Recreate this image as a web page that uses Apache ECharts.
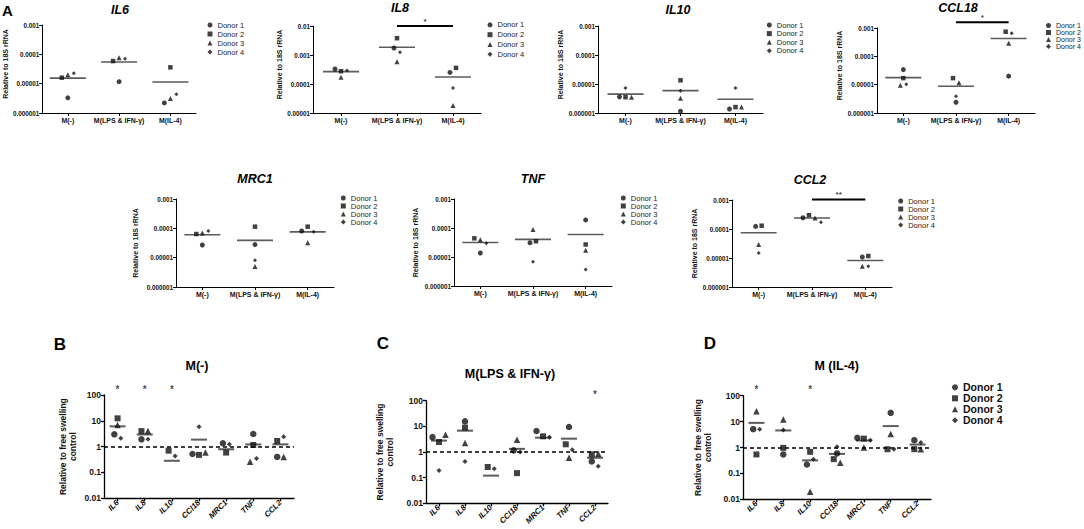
<!DOCTYPE html>
<html><head><meta charset="utf-8">
<script src="https://cdn.jsdelivr.net/npm/echarts@6/dist/echarts.min.js"></script>
<style>html,body{margin:0;padding:0;background:#fff}#c{width:1084px;height:529px}</style>
</head><body><div id="c"></div>
<script>
// ---------------- DATA ----------------
const donors = ['Donor 1', 'Donor 2', 'Donor 3', 'Donor 4'];
const conditions = ['M(-)', 'M(LPS & IFN-γ)', 'M(IL-4)'];
const genes = ['IL6', 'IL8', 'IL10', 'CCl18', 'MRC1', 'TNF', 'CCL2'];
const tickLabelsA = ['0.000001', '0.00001', '0.0001', '0.001', '0.01'];   // 1e-6 .. 1e-2
const tickLabelsBCD = ['0.01', '0.1', '1', '10', '100'];                  // 1e-2 .. 1e2

// Panel A: expression relative to 18S rRNA; rows = donors, columns = conditions
const IL6   = [[3.3e-6, 1.17e-5, 2.2e-6], [1.6e-5, 5.9e-5, 3.6e-5], [2.0e-5, 7.7e-5, 3.1e-6], [2.25e-5, 7.1e-5, 4.4e-6]];
const IL8   = [[3.3e-4, 1.74e-3, 2.5e-4], [2.75e-4, 3.8e-3, 3.6e-4], [1.7e-4, 5.8e-4, 1.8e-5], [2.9e-4, 1.24e-3, 7.3e-5]];
const IL10  = [[3.6e-6, 1.15e-6, 1.37e-6], [3.5e-6, 1.34e-5, 1.6e-6], [3.5e-6, 3.2e-6, 1.6e-6], [7.3e-6, 5.8e-6, 7.3e-6]];
const CCL18 = [[3.4e-5, 2.4e-6, 2.0e-5], [1.7e-5, 1.7e-5, 7.4e-4], [9.5e-6, 1.18e-5, 2.9e-4], [1.03e-5, 3.9e-6, 6.5e-4]];
const MRC1  = [[2.7e-5, 2.8e-5, 8.1e-5], [6.4e-5, 1.14e-4, 1.14e-4], [6.9e-5, 5.0e-6, 3.2e-5], [8.1e-5, 8.1e-6, 7.7e-5]];
const TNF   = [[1.37e-5, 3.1e-5, 1.9e-4], [4.4e-5, 3.5e-5, 2.7e-5], [3.9e-5, 8.9e-5, 1.7e-5], [3.0e-5, 6.9e-6, 3.7e-6]];
const CCL2  = [[1.23e-4, 2.45e-4, 1.08e-5], [1.3e-4, 3.0e-4, 1.17e-5], [2.9e-5, 2.4e-4, 5.2e-6], [1.5e-5, 1.7e-4, 5.2e-6]];

// Panels B-D: relative to free swelling control; rows = donors, columns = genes (0 = not detected)
const Mneg = [[3.0, 1.92, 0, 0.52, 1.35, 3.1, 0.40], [12.5, 4.0, 0.70, 0.48, 0.59, 1.16, 1.66], [6.9, 4.0, 0, 0.59, 0, 0.26, 0.40], [2.1, 1.92, 0.435, 5.9, 1.23, 0.35, 2.44]];
const Mlps = [[3.8, 15.6, 0, 1.16, 6.6, 9.4, 0.43], [2.45, 8.9, 0.26, 0.15, 4.08, 2.0, 0.81], [4.7, 2.24, 0, 3.0, 0, 0.6, 0.86], [0.19, 0.43, 0.22, 1.0, 3.8, 1.23, 0.28]];
const Mil4 = [[5.1, 0.54, 0.22, 0.59, 2.36, 21.8, 1.92], [0.54, 0.97, 0.68, 0.355, 2.2, 0.86, 0.86], [25, 12, 0.0195, 0.26, 1.0, 3.3, 0.86], [5.1, 4.7, 0.355, 1.06, 1.92, 0.86, 1.56]];

// significance annotations
const sigIL8 = ['M(LPS & IFN-γ)', 'M(IL-4)', '*'];
const sigCCL18 = ['M(LPS & IFN-γ)', 'M(IL-4)', '*'];
const sigCCL2 = ['M(LPS & IFN-γ)', 'M(IL-4)', '**'];
const starsMneg = ['IL6', 'IL8', 'IL10'];
const starsMlps = ['CCL2'];
const starsMil4 = ['IL6', 'IL10'];

// ---------------- LAYOUT ----------------
const FONT = '"Liberation Sans", Arial, sans-serif';
const symbols = ['circle', 'rect', 'triangle', 'diamond'];

const panelsA = [
  {title: 'IL6',   values: IL6,   min: -6, max: -3, grid: [41, 25, 155, 88],  nameGap: 30, namePad: 10, legend: [207.5, 20.5, 9, 7.5],   title_xy: [120, 9.7]},
  {title: 'IL8',   values: IL8,   min: -5, max: -2, grid: [313, 26, 168, 87], nameGap: 27, namePad: 10, legend: [487.5, 20, 9.8, 7.5],   title_xy: [400, 8.3], sig: sigIL8, sigLevel: 1.0e-2},
  {title: 'IL10',  values: IL10,  min: -6, max: -3, grid: [598, 26, 165, 87], nameGap: 32, namePad: 10, legend: [766.8, 20.7, 8.6, 7.5], title_xy: [678, 10]},
  {title: 'CCL18', values: CCL18, min: -6, max: -3, grid: [877, 28, 158, 85], nameGap: 34, namePad: 10, legend: [1046, 22, 6, 7],   title_xy: [958, 8], sig: sigCCL18, sigLevel: 1.6e-3},
  {title: 'MRC1',  values: MRC1,  min: -6, max: -3, grid: [176, 199, 158, 88], nameGap: 37, namePad: 0, legend: [340.8, 194, 7.8, 7.5], title_xy: [255, 178.7]},
  {title: 'TNF',   values: TNF,   min: -6, max: -3, grid: [454, 199, 158, 87], nameGap: 35, namePad: 0, legend: [620.8, 194, 7.4, 7.5], title_xy: [533, 179]},
  {title: 'CCL2',  values: CCL2,  min: -6, max: -3, grid: [732, 200, 160, 87], nameGap: 34, namePad: 0, legend: [898.2, 197, 6, 7.5],   title_xy: [810, 180], sig: sigCCL2, sigLevel: 1.05e-3}
];
const panelsB = [
  {title: 'M(-)',           values: Mneg, min: -2, max: 2, grid: [104, 395, 190, 103.3], nameGap: 26, title_xy: [197, 366],   letter: ['B', 60, 344],  stars: starsMneg},
  {title: 'M(LPS & IFN-γ)', values: Mlps, min: -2, max: 2, grid: [426, 400.7, 182, 102.6], nameGap: 31, title_xy: [510, 373.7], letter: ['C', 383, 343.5], stars: starsMlps},
  {title: 'M (IL-4)',       values: Mil4, min: -2, max: 2, grid: [743, 395.7, 188, 103.6], nameGap: 30, title_xy: [836.7, 366.3], letter: ['D', 710, 343], stars: starsMil4, bigLegend: [952, 381.8, 11]}
];

const styleA = {
  axisW: 1, sizes: [5, 4.5, 5, 4], meanSize: [36, 1.6], thr: 5, step: 6,
  ticks: tickLabelsA, tickBase: -6, tickFont: 6.3,
  yName: 'Relative to 18S rRNA', yNameFont: 7, yNameLH: 8,
  xLabel: {fontSize: 7, fontWeight: 'bold', color: '#111', margin: 4, interval: 0, fontFamily: FONT}
};
const styleB = {
  axisW: 1.3, sizes: [6.5, 6, 6.5, 5], meanSize: [16, 2], thr: 5.5, step: 6.5,
  ticks: tickLabelsBCD, tickBase: -2, tickFont: 8.5,
  yName: 'Relative to free swelling\ncontrol', yNameFont: 8.5, yNameLH: 10,
  xLabel: {fontSize: 8, fontWeight: 'bold', fontStyle: 'italic', color: '#111', margin: 3, interval: 0, rotate: 45, fontFamily: FONT}
};

const grid = [], xAxis = [], yAxis = [], series = [], legend = [], graphic = [];

function computeOffsets(values, pxPerDec, thr, step) {
  const nCat = values[0].length;
  const off = values.map(r => r.map(() => 0));
  for (let i = 0; i < nCat; i++) {
    const items = [];
    values.forEach((r, d) => { if (r[i] > 0) items.push({d, y: Math.log10(r[i]) * pxPerDec}); });
    items.sort((a, b) => a.y - b.y);
    const clusters = [];
    items.forEach(it => {
      const last = clusters[clusters.length - 1];
      if (last && it.y - last[last.length - 1].y < thr) last.push(it); else clusters.push([it]);
    });
    clusters.forEach(c => {
      c.sort((a, b) => a.d - b.d);
      c.forEach((it, k) => { off[it.d][i] = (k - (c.length - 1) / 2) * step; });
    });
  }
  return off;
}

function addPanel(cfg, cats, st) {
  const p = grid.length;
  const [gl, gt, gw, gh] = cfg.grid;
  const ymin = Number('1e' + cfg.min), ymax = Number('1e' + cfg.max);
  grid.push({left: gl, top: gt, width: gw, height: gh});
  xAxis.push({
    type: 'category', gridIndex: p, data: cats, boundaryGap: true, position: 'bottom',
    axisLine: {show: true, onZero: false, lineStyle: {color: '#000', width: st.axisW}},
    axisTick: {show: true, alignWithLabel: true, length: 3, lineStyle: {color: '#000', width: st.axisW}},
    axisLabel: st.xLabel, splitLine: {show: false}
  });
  xAxis.push({type: 'value', gridIndex: p, min: -0.5, max: cats.length - 0.5, show: false,
    axisLine: {onZero: false}});
  yAxis.push({
    type: 'log', logBase: 10, gridIndex: p, min: ymin, max: ymax, position: 'left',
    axisLine: {show: true, onZero: false, lineStyle: {color: '#000', width: st.axisW}},
    axisTick: {show: true, length: 3, lineStyle: {color: '#000', width: st.axisW}},
    splitLine: {show: false}, minorTick: {show: false},
    axisLabel: {
      formatter: v => st.ticks[Math.round(Math.log10(v)) - st.tickBase],
      fontSize: st.tickFont, fontWeight: 'bold', color: '#111', margin: 3, fontFamily: FONT
    },
    name: st.yName, nameLocation: 'middle', nameGap: cfg.nameGap, nameRotate: 90,
    nameTextStyle: {fontSize: st.yNameFont, fontWeight: 'bold', color: '#111', fontFamily: FONT,
      lineHeight: st.yNameLH, align: 'center', padding: [0, 0, 0, cfg.namePad || 0]}
  });
  const pxPerDec = gh / (cfg.max - cfg.min);
  const offs = computeOffsets(cfg.values, pxPerDec, st.thr, st.step);
  // mean lines
  const means = cats.map((c, i) => [i, cfg.values.reduce((s, r) => s + r[i], 0) / cfg.values.length]);
  series.push({
    type: 'scatter', xAxisIndex: 2 * p + 1, yAxisIndex: p, symbol: 'rect', symbolSize: st.meanSize,
    itemStyle: {color: '#333'}, z: 2, silent: true, data: means,
    markLine: cfg.dashed ? {silent: true, symbol: 'none', label: {show: false},
      lineStyle: {color: '#000', type: [4, 3], width: 1.5}, data: [{yAxis: 1}]} : undefined
  });
  // donor points
  donors.forEach((name, d) => {
    const data = [];
    cfg.values[d].forEach((v, i) => {
      if (v >= ymin) data.push({value: [i, v], symbolOffset: [offs[d][i], 0]});
    });
    series.push({
      type: 'scatter', name, xAxisIndex: 2 * p + 1, yAxisIndex: p, symbol: symbols[d],
      symbolSize: st.sizes[d], itemStyle: {color: '#111'}, z: 3, data
    });
  });
  return p;
}

// ---- Panel A ----
panelsA.forEach(cfg => {
  const p = addPanel(cfg, conditions, styleA);
  graphic.push({type: 'text', x: cfg.title_xy[0], y: cfg.title_xy[1],
    style: {text: cfg.title, font: 'italic bold 12.5px ' + FONT, fill: '#000', align: 'center', verticalAlign: 'middle'}});
  const [ll, lt, pitch, fs] = cfg.legend;
  legend.push({
    left: ll, top: lt, orient: 'vertical', itemWidth: 5, itemHeight: 5, itemGap: 0, padding: 0,
    selectedMode: false, textStyle: {fontSize: fs, lineHeight: pitch, color: '#222', fontFamily: FONT},
    data: donors.map((n, i) => ({name: n, icon: symbols[i]}))
  });
  if (cfg.sig) {
    const a = conditions.indexOf(cfg.sig[0]), b = conditions.indexOf(cfg.sig[1]);
    series.push({type: 'line', xAxisIndex: 2 * p + 1, yAxisIndex: p, symbol: 'none', clip: false, silent: true, z: 4,
      lineStyle: {color: '#000', width: 2}, data: [[a, cfg.sigLevel], [b, cfg.sigLevel]]});
    series.push({type: 'scatter', xAxisIndex: 2 * p + 1, yAxisIndex: p, symbolSize: 1, clip: false, silent: true, z: 4,
      itemStyle: {color: 'rgba(0,0,0,0)'},
      label: {show: true, position: 'top', distance: 0, formatter: cfg.sig[2], fontSize: 8, fontWeight: 'bold', color: '#000', fontFamily: FONT},
      data: [[(a + b) / 2, cfg.sigLevel]]});
  }
});
graphic.push({type: 'text', x: 2, y: 10, style: {text: 'A', font: 'bold 15px ' + FONT, fill: '#000', align: 'left', verticalAlign: 'middle'}});

// ---- Panels B-D ----
panelsB.forEach(cfg => {
  cfg.dashed = true;
  const p = addPanel(cfg, genes, styleB);
  graphic.push({type: 'text', x: cfg.title_xy[0], y: cfg.title_xy[1],
    style: {text: cfg.title, font: 'bold 12.5px ' + FONT, fill: '#000', align: 'center', verticalAlign: 'middle'}});
  graphic.push({type: 'text', x: cfg.letter[1], y: cfg.letter[2],
    style: {text: cfg.letter[0], font: 'bold 17px ' + FONT, fill: '#000', align: 'center', verticalAlign: 'middle'}});
  series.push({type: 'scatter', xAxisIndex: 2 * p + 1, yAxisIndex: p, symbolSize: 1, clip: false, silent: true, z: 4,
    itemStyle: {color: 'rgba(0,0,0,0)'},
    label: {show: true, position: 'inside', formatter: '*', fontSize: 10, fontWeight: 'bold', color: '#222', fontFamily: FONT},
    data: cfg.stars.map(g => [genes.indexOf(g), 170])});
  if (cfg.bigLegend) {
    const [ll, lt, pitch] = cfg.bigLegend;
    legend.push({
      left: ll, top: lt, orient: 'vertical', itemWidth: 6, itemHeight: 6, itemGap: 0, padding: 0,
      selectedMode: false, textStyle: {fontSize: 10.5, fontWeight: 'bold', lineHeight: pitch, color: '#111', fontFamily: FONT},
      data: donors.map((n, i) => ({name: n, icon: symbols[i]}))
    });
  }
});

const chart = echarts.init(document.getElementById('c'), null, {renderer: 'svg', width: 1084, height: 529});
chart.setOption({
  animation: false, backgroundColor: '#fff',
  textStyle: {fontFamily: FONT},
  grid, xAxis, yAxis, series, legend, graphic
});
</script></body></html>
